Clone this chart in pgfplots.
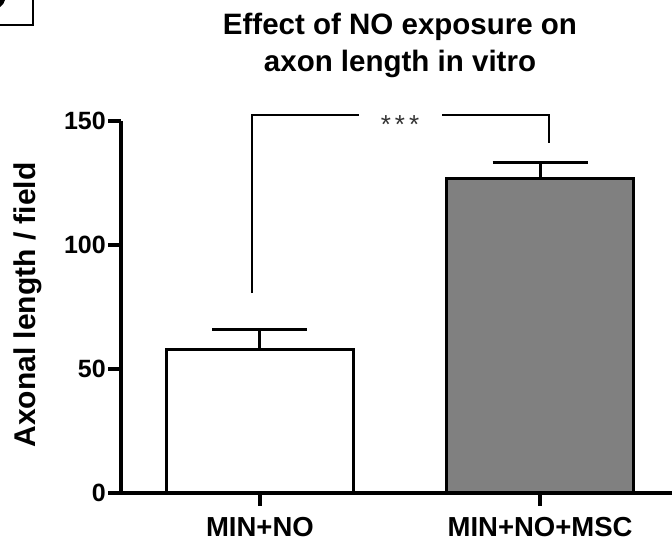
\documentclass[border=0pt]{standalone}
\usepackage{pgfplots}
\pgfplotsset{compat=1.18}
\usepackage{fontspec}
\setmainfont{Liberation Sans}
\definecolor{bargray}{RGB}{128,128,128}
\begin{document}
\begin{tikzpicture}[x=1pt,y=1pt]
\useasboundingbox (0,0) rectangle (672,545);
\draw[line width=2pt] (0,520) -- (33,520) -- (33,545);
\fill (0,545) -- (5,545) to[bend left=20] (0,538) -- cycle;
\begin{axis}[
  at={(121pt,52pt)}, anchor=south west,
  scale only axis, width=551pt, height=372pt,
  xmin=-0.496, xmax=1.471, ymin=0, ymax=150,
  axis x line=bottom, axis y line=left,
  axis line style={line width=4pt,-},
  ytick={0,50,100,150},
  xtick={0,1}, xticklabels={MIN+NO, MIN+NO+MSC},
  tick style={line width=4pt, black},
  major tick length=13pt, tick align=outside,
  /pgf/number format/assume math mode=true,
  yticklabel style={font=\fontsize{25}{25}\selectfont\bfseries, inner sep=2pt},
  xticklabel style={font=\fontsize{27.5}{27.5}\selectfont\bfseries, inner sep=11pt},
  ylabel={Axonal length / field},
  ylabel style={at={(axis description cs:-0.17,0.505)}, anchor=center, font=\fontsize{30}{30}\selectfont\bfseries},
  ybar, bar width=187pt, bar shift=0pt,
  clip=false,
]
\addplot[fill=white, draw=black, line width=3pt,
  error bars/.cd, y dir=plus, y explicit,
  error bar style={line width=3pt, black},
  error mark options={rotate=90, mark size=47.5pt, line width=3pt, black}]
  coordinates {(0,57.7) +- (0,8.4)};
\addplot[fill=bargray, draw=black, line width=3pt,
  error bars/.cd, y dir=plus, y explicit,
  error bar style={line width=3pt, black},
  error mark options={rotate=90, mark size=47.5pt, line width=3pt, black}]
  coordinates {(1,127.0) +- (0,6.1)};
\draw[line width=2.5pt] (axis cs:-0.029,80.6) -- (axis cs:-0.029,152.4) -- (axis cs:0.354,152.4);
\draw[line width=2.5pt] (axis cs:0.65,152.4) -- (axis cs:1.032,152.4) -- (axis cs:1.032,141.1);
\node[font=\fontsize{26}{26}\selectfont, text=black!80] at (axis cs:0.5,148.5) {*\hspace{4pt}*\hspace{4pt}*};
\end{axis}
\node[align=center, font=\fontsize{29.5}{37}\selectfont\bfseries] at (400,500) {Effect of NO exposure on\\axon length in vitro};
\end{tikzpicture}
\end{document}
